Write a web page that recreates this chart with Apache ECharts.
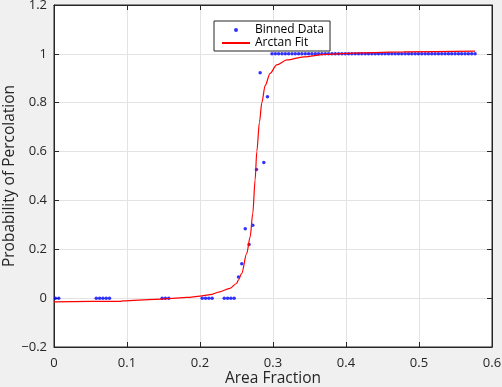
<!DOCTYPE html>
<html><head><meta charset="utf-8">
<script src="https://cdn.jsdelivr.net/npm/echarts@6/dist/echarts.min.js"></script>
<style>html,body{margin:0;padding:0;background:#f0f0f0;}#c{width:502px;height:387px;}</style>
</head><body><div id="c"></div>
<script>
// Binned data (area fraction, probability of percolation)
const dataX = [0.0020, 0.0065,
  0.0579, 0.0625, 0.0670, 0.0715, 0.0760,
  0.1481, 0.1526, 0.1572,
  0.2030, 0.2076, 0.2121, 0.2166,
  0.2332, 0.2378, 0.2423, 0.2468,
  0.2527, 0.2572, 0.2620, 0.2672, 0.2723, 0.2773, 0.2824, 0.2874, 0.2924,
  0.2986, 0.3032, 0.3077, 0.3123, 0.3168, 0.3214, 0.3260, 0.3305, 0.3351, 0.3396,
  0.3442, 0.3488, 0.3533, 0.3579, 0.3624, 0.3670, 0.3716, 0.3761, 0.3807, 0.3852,
  0.3898, 0.3944, 0.3989, 0.4035, 0.4080, 0.4126, 0.4172, 0.4217, 0.4263, 0.4308,
  0.4354, 0.4400, 0.4445, 0.4491, 0.4536, 0.4582, 0.4628, 0.4673, 0.4719, 0.4764,
  0.4810, 0.4856, 0.4901, 0.4947, 0.4992, 0.5038, 0.5084, 0.5129, 0.5175, 0.5220,
  0.5266, 0.5312, 0.5357, 0.5403, 0.5448, 0.5494, 0.5540, 0.5585, 0.5631, 0.5676,
  0.5722, 0.5768];
const dataY = [0, 0,
  0, 0, 0, 0, 0,
  0, 0, 0,
  0, 0, 0, 0,
  0, 0, 0, 0,
  0.087, 0.141, 0.284, 0.220, 0.298, 0.527, 0.923, 0.555, 0.824,
  1, 1, 1, 1, 1, 1, 1, 1, 1, 1,
  1, 1, 1, 1, 1, 1, 1, 1, 1, 1,
  1, 1, 1, 1, 1, 1, 1, 1, 1, 1,
  1, 1, 1, 1, 1, 1, 1, 1, 1, 1,
  1, 1, 1, 1, 1, 1, 1, 1, 1, 1,
  1, 1, 1, 1, 1, 1, 1, 1, 1, 1,
  1, 1];
// Arctan fit curve
const fitX = [0, 0.09, 0.095, 0.138, 0.163, 0.182, 0.2, 0.214, 0.227, 0.241, 0.25, 0.2526, 0.257, 0.264,
  0.2687, 0.2723, 0.2755, 0.2778, 0.2814, 0.2847, 0.2892, 0.296, 0.305, 0.319, 0.342, 0.372, 0.42, 0.479, 0.5768];
const fitY = [-0.015, -0.013, -0.011, -0.005, -0.001, 0.003, 0.008, 0.014, 0.026, 0.04, 0.06, 0.074, 0.1, 0.183,
  0.251, 0.347, 0.484, 0.60, 0.72, 0.80, 0.87, 0.92, 0.955, 0.975, 0.988, 0.998, 1.004, 1.008, 1.011];

const xRange = [0, 0.6], xStep = 0.1;
const yRange = [-0.2, 1.2], yStep = 0.2;

const fmt = v => String(Math.round(v * 10) / 10).replace('-', '\u2212');
const ink = '#262626';
const font = 'Open Sans';

const chart = echarts.init(document.getElementById('c'), null, {renderer: 'canvas'});
const baseAxis = {
  type: 'value',
  axisLine: {show: true, onZero: false, lineStyle: {color: ink, width: 1}},
  axisTick: {show: true, inside: true, length: 5, lineStyle: {color: ink}},
};
chart.setOption({
  backgroundColor: '#f0f0f0',
  animation: false,
  textStyle: {fontFamily: font},
  grid: {left: 54, right: 10, top: 5, bottom: 40, containLabel: false, outerBoundsMode: 'none',
         show: true, backgroundColor: '#ffffff', borderColor: ink, borderWidth: 1},
  legend: {
    orient: 'vertical', left: 214, top: 21,
    padding: [3, 6, 2, 7], itemGap: 1, itemWidth: 28, itemHeight: 4,
    backgroundColor: '#ffffff', borderColor: ink, borderWidth: 1, borderRadius: 0,
    textStyle: {fontFamily: font, fontSize: 12, color: '#000'},
    data: [{name: 'Binned Data', icon: 'circle'}, {name: 'Arctan Fit', itemStyle: {opacity: 0}}]
  },
  xAxis: [
    Object.assign({}, baseAxis, {
      min: xRange[0], max: xRange[1], interval: xStep, position: 'bottom',
      axisLabel: {color: ink, fontSize: 13, margin: 10, formatter: fmt, fontFamily: font},
      splitLine: {show: true, lineStyle: {color: '#e3e3e3'}},
      name: 'Area Fraction', nameLocation: 'middle', nameGap: 24, nameMoveOverlap: false,
      nameTextStyle: {color: ink, fontSize: 15.5, fontFamily: font}
    }),
    Object.assign({}, baseAxis, {
      min: xRange[0], max: xRange[1], interval: xStep, position: 'top',
      axisLabel: {show: false}, splitLine: {show: false}
    })
  ],
  yAxis: [
    Object.assign({}, baseAxis, {
      min: yRange[0], max: yRange[1], interval: yStep, position: 'left',
      axisLabel: {color: ink, fontSize: 13, margin: 7, formatter: fmt, fontFamily: font},
      splitLine: {show: true, lineStyle: {color: '#e3e3e3'}},
      name: 'Probability of Percolation', nameLocation: 'middle', nameGap: 36, nameRotate: 90,
      nameMoveOverlap: false,
      nameTextStyle: {color: ink, fontSize: 15.5, fontFamily: font}
    }),
    Object.assign({}, baseAxis, {
      min: yRange[0], max: yRange[1], interval: yStep, position: 'right',
      axisLabel: {show: false}, splitLine: {show: false}
    })
  ],
  series: [
    {
      name: 'Binned Data', type: 'scatter', xAxisIndex: 0, yAxisIndex: 0,
      symbol: 'circle', symbolSize: 3.5, itemStyle: {color: '#0000ff'},
      data: dataX.map((x, i) => [x, dataY[i]])
    },
    {
      name: 'Arctan Fit', type: 'line', xAxisIndex: 0, yAxisIndex: 0,
      symbol: 'none', smooth: 0.3, smoothMonotone: 'x',
      lineStyle: {color: '#ff0000', width: 1.2}, itemStyle: {color: '#ff0000'},
      data: fitX.map((x, i) => [x, fitY[i]])
    }
  ]
});
</script>
</body></html>
